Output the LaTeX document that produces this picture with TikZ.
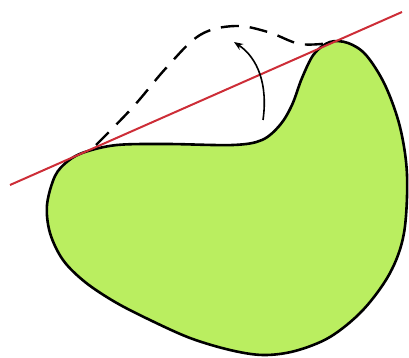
\documentclass[tikz,border=0pt]{standalone}
\usetikzlibrary{arrows.meta}
\definecolor{blobgreen}{RGB}{186,238,96}
\definecolor{tanred}{RGB}{205,45,55}
\begin{document}
\begin{tikzpicture}[x=1pt,y=-1pt,
  outline/.style={draw=black,line width=2.6pt,fill=blobgreen,line join=round},
  tangent/.style={draw=tanred,line width=2pt},
  hull/.style={draw=black,line width=2.4pt,dash pattern=on 18pt off 11pt},
  flip/.style={draw=black,line width=1.6pt,-{Stealth[length=9pt,width=7pt]}}]
\useasboundingbox (0,0) rectangle (409,358);
\draw[outline] plot[smooth cycle,tension=0.55] coordinates {
 (85,152) (117,145) (167,144) (233,145) (262,140) (280,125) (292,105)
 (302,78) (314,54) (330,42) (348,43) (366,55) (385,85) (400,127)
 (407,175) (404,233) (390,273) (363,310) (330,337) (295,351)
 (263,355) (230,350) (190,338) (150,320) (115,302) (85,282) (63,260) (50,233) (47,205) (55,176) (68,161)};
\coordinate (tl) at (10,185);
\coordinate (tr) at (402,12);
\draw[tangent] (tl) -- (tr);
\coordinate (hl) at (96,145);
\coordinate (hr) at (330,43);
\draw[hull] plot[smooth,tension=0.6] coordinates {(hl) (133,107) (167,67) (200,35) (235,26) (268,32) (300,44) (hr)};
\coordinate (as) at (263,120);
\coordinate (ae) at (234,42);
\draw[flip] (as) .. controls (268,85) and (258,58) .. (ae);
\end{tikzpicture}
\end{document}
